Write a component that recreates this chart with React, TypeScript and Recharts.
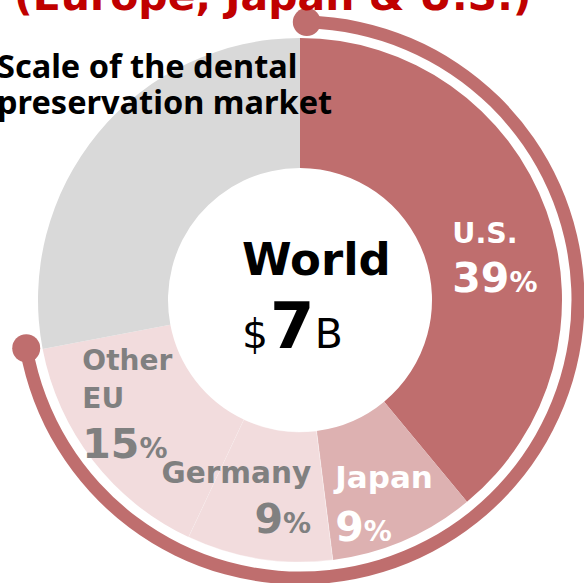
import React from 'react';
import { PieChart, Pie, Cell } from 'recharts';

// ---- data ----
const regions = ['U.S.', 'Japan', 'Germany', 'Other EU', 'Rest of world'];
const regionLines = [['U.S.'], ['Japan'], ['Germany'], ['Other', 'EU'], []];
const shares = [39, 9, 9, 15, 28];
const worldTotal = 7; // $ billions
const coveredSpan = [{ name: 'Europe, Japan & U.S.', value: 1 }];

// ---- styles ----
const FONT = '"DejaVu Sans", Verdana, sans-serif';
const TITLE_FONT = '"Noto Sans", "Open Sans", sans-serif';
const sliceColors = ['#bf6e6e', '#ddb1b1', '#f2dcdd', '#f2dcdd', '#d9d9d9'];
const labelColors = ['#ffffff', '#ffffff', '#808080', '#808080', 'none'];
const CX = 300;
const CY = 300;

// label offsets relative to the slice mid point (name baseline), and line gaps
const labelLayout = [
  { dx: -33, dy: 10, anchor: 'start', gaps: [49], size: 28.5 },
  { dx: -43, dy: 7, anchor: 'start', gaps: [53], size: 31 },
  { dx: 42, dy: -12, anchor: 'end', gaps: [50], size: 29.5 },
  { dx: -62, dy: -51, anchor: 'start', gaps: [38, 50], size: 28 },
  null,
];

const RAD = Math.PI / 180;

const renderSliceLabel = (props: any) => {
  const { cx, cy, midAngle, innerRadius, outerRadius, index } = props;
  const layout = labelLayout[index];
  if (!layout) return null;
  const r = (innerRadius + outerRadius) / 2;
  const mx = cx + r * Math.cos(-midAngle * RAD);
  const my = cy + r * Math.sin(-midAngle * RAD);
  const x = mx + layout.dx;
  let y = my + layout.dy;
  const lines = regionLines[index];
  const color = labelColors[index];
  const out: React.ReactNode[] = [];
  lines.forEach((ln, i) => {
    out.push(
      <text key={'n' + i} x={x} y={y} textAnchor={layout.anchor} fill={color}
        fontFamily={FONT} fontWeight="bold" fontSize={layout.size}>{ln}</text>
    );
    y += layout.gaps[i];
  });
  out.push(
    <text key="p" x={x} y={y} textAnchor={layout.anchor} fill={color}
      fontFamily={FONT} fontWeight="bold">
      <tspan fontSize={41}>{shares[index]}</tspan>
      <tspan fontSize={28}>%</tspan>
    </text>
  );
  return <g>{out}</g>;
};

const renderArcEnds = (props: any) => {
  const cx = props.cx ?? CX;
  const cy = props.cy ?? CY;
  const r = ((props.innerRadius ?? 271.5) + (props.outerRadius ?? 284.5)) / 2;
  const a1 = props.startAngle ?? 88.6;
  const a2 = props.endAngle ?? -170;
  const p1 = { x: cx + r * Math.cos(-a1 * RAD), y: cy + r * Math.sin(-a1 * RAD) };
  const p2 = { x: cx + r * Math.cos(-a2 * RAD), y: cy + r * Math.sin(-a2 * RAD) };
  return (
    <g>
      <circle cx={p1.x} cy={p1.y} r={14} fill="#bf6e6e" />
      <circle cx={p2.x} cy={p2.y} r={14} fill="#bf6e6e" />
    </g>
  );
};

const data = regions.map((name, i) => ({ name, value: shares[i] }));

export default function App() {
  return (
    <div style={{ position: 'absolute', left: 0, top: 0, width: 584, height: 583, overflow: 'hidden', background: '#fff' }}>
      <PieChart width={584} height={583} margin={{ top: 0, right: 0, bottom: 0, left: 0 }}>
        <Pie
          data={coveredSpan}
          dataKey="value"
          cx={CX}
          cy={CY}
          innerRadius={271.5}
          outerRadius={284.5}
          startAngle={88.6}
          endAngle={-170}
          stroke="none"
          fill="#bf6e6e"
          label={renderArcEnds}
          labelLine={false}
          isAnimationActive={false}
        />
        <Pie
          data={data}
          dataKey="value"
          cx={CX}
          cy={CY}
          innerRadius={132}
          outerRadius={262}
          startAngle={90}
          endAngle={-270}
          stroke="none"
          label={renderSliceLabel}
          labelLine={false}
          isAnimationActive={false}
        >
          {data.map((d, i) => (
            <Cell key={d.name} fill={sliceColors[i]}
              stroke={i === 2 ? '#ffffff' : 'none'} strokeOpacity={0.5} strokeWidth={0.8} />
          ))}
        </Pie>
      </PieChart>
      <svg width={584} height={583} style={{ position: 'absolute', left: 0, top: 0, pointerEvents: 'none' }}>
        <text x={14} y={10} fill="#c00000" fontFamily={FONT} fontWeight="bold" fontSize={41}>
          (Europe, Japan &amp; U.S.)
        </text>
        <text x={-3} y={78} fill="#000" fontFamily={TITLE_FONT} fontWeight="bold" fontSize={32.5}>Scale of the dental</text>
        <text x={-3} y={114} fill="#000" fontFamily={TITLE_FONT} fontWeight="bold" fontSize={32.5}>preservation market</text>
        <text x={242} y={275} fill="#000" fontFamily={FONT} fontWeight="bold" fontSize={45}>World</text>
        <text x={242} y={348} fill="#000" fontFamily={FONT}>
          <tspan fontSize={41}>$</tspan>
          <tspan fontSize={64} fontWeight="bold" dx={2}>{worldTotal}</tspan>
          <tspan fontSize={41} dx={0}>B</tspan>
        </text>
      </svg>
    </div>
  );
}
